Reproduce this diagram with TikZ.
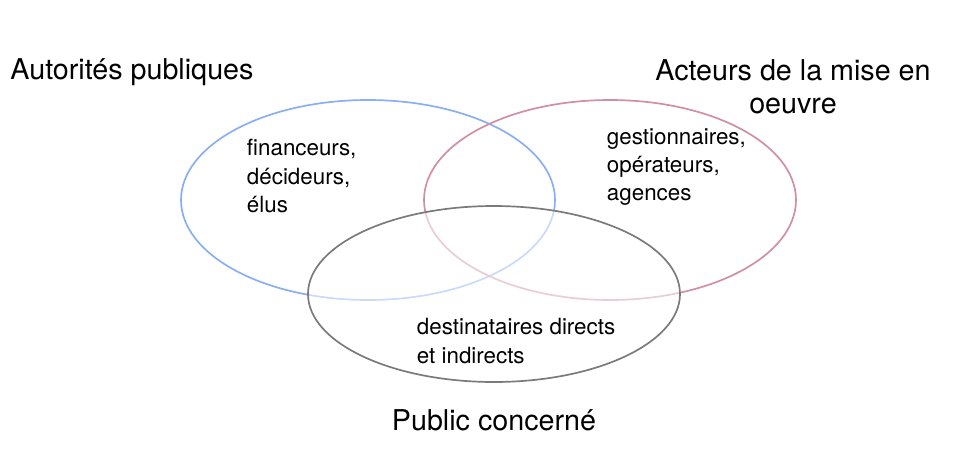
\documentclass[tikz,border=0pt]{standalone}
\usepackage{fontspec}
\setmainfont{TeX Gyre Heros}
\definecolor{autblue}{HTML}{8AAEF5}
\definecolor{actpink}{HTML}{D08FA3}
\definecolor{pubgray}{HTML}{7A7A7A}
\begin{document}
\begin{tikzpicture}[x=0.025cm, y=-0.025cm,
  title/.style = {font=\fontsize{20.4}{23.5}\selectfont, align=center},
  members/.style = {font=\fontsize{15.9}{20}\selectfont, align=left, anchor=west}]
  \useasboundingbox (0,0) rectangle (976,462);
  % the three groups
  \draw[autblue, line width=1.2pt] (368,200) ellipse [x radius=187, y radius=100];
  \draw[actpink, line width=1.2pt] (610,200) ellipse [x radius=186, y radius=100];
  \fill[white, opacity=0.55] (494,294) ellipse [x radius=186, y radius=88];
  \draw[pubgray, line width=1.2pt] (494,294) ellipse [x radius=186, y radius=88];
  % titles
  \node[title] (aut) at (132,72) {Autorités publiques};
  \node[title] (act) at (793,87) {Acteurs de la mise en\\oeuvre};
  \node[title] (pub) at (494,420) {Public concerné};
  % members
  \node[members] (autm) at (242,176) {financeurs,\\décideurs,\\élus};
  \node[members] (actm) at (602,167) {gestionnaires,\\opérateurs,\\agences};
  \node[members] (pubm) at (412,341) {destinataires directs\\et indirects};
\end{tikzpicture}
\end{document}
